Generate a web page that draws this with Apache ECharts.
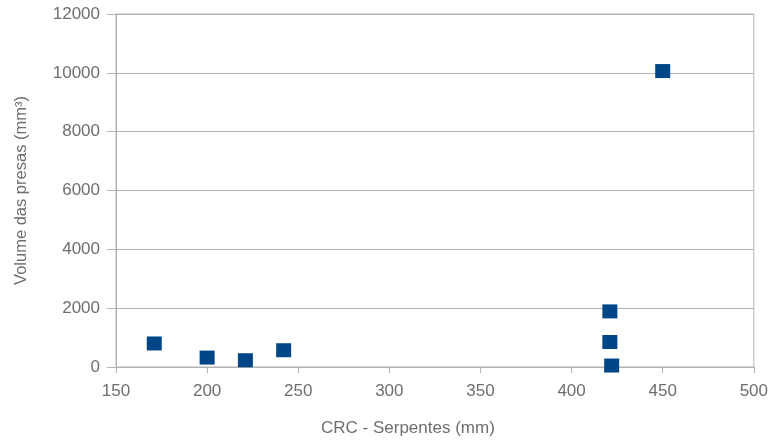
<!DOCTYPE html>
<html>
<head>
<meta charset="utf-8">
<script src="https://cdn.jsdelivr.net/npm/echarts@6/dist/echarts.min.js"></script>
<style>html,body{margin:0;padding:0;background:#fff}#c{width:771px;height:443px}</style>
</head>
<body>
<div id="c"></div>
<script>
var crc = [171, 200, 221, 242, 421, 421, 422, 450];
var volume = [800, 320, 230, 570, 1890, 850, 50, 10060];
var xTitle = 'CRC - Serpentes (mm)';
var yTitle = 'Volume das presas (mm³)';

var data = crc.map(function (x, i) { return [x, volume[i]]; });
var chart = echarts.init(document.getElementById('c'));
var grey = '#b3b3b3';
var txt = '#6e6e6e';
var font = 'Liberation Sans';
chart.setOption({
  animation: false,
  grid: { left: 116, right: 17, top: 14, bottom: 76, show: true, borderColor: grey, borderWidth: 1, containLabel: false },
  xAxis: {
    type: 'value', min: 150, max: 500, interval: 50,
    name: xTitle, nameLocation: 'middle', nameGap: 53,
    nameTextStyle: { color: txt, fontSize: 17, fontFamily: font, padding: [0, 54, 0, 0] },
    axisLine: { show: true, lineStyle: { color: grey } },
    axisTick: { show: true, length: 6, lineStyle: { color: grey } },
    axisLabel: { color: txt, fontSize: 17, fontFamily: font, margin: 16 },
    splitLine: { show: false }
  },
  yAxis: {
    type: 'value', min: 0, max: 12000, interval: 2000,
    name: yTitle, nameLocation: 'middle', nameGap: 86, nameRotate: 90,
    nameTextStyle: { color: txt, fontSize: 16.5, fontFamily: font },
    axisLine: { show: true, lineStyle: { color: grey } },
    axisTick: { show: true, length: 9, lineStyle: { color: grey } },
    axisLabel: { color: txt, fontSize: 17, fontFamily: font, margin: 16, formatter: function (v) { return String(v); } },
    splitLine: { show: true, lineStyle: { color: grey } }
  },
  series: [{
    type: 'scatter', data: data, symbol: 'rect', symbolSize: [15, 14],
    itemStyle: { color: '#004586', opacity: 1 }
  }]
});
</script>
</body>
</html>
